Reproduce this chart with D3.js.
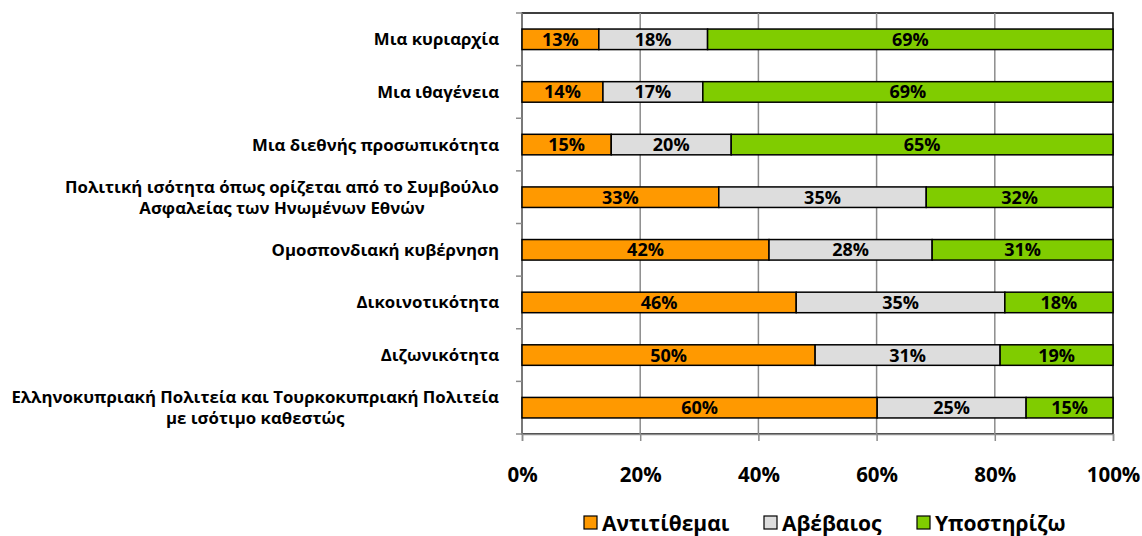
<!DOCTYPE html>
<html>
<head>
<meta charset="utf-8">
<script src="https://cdn.jsdelivr.net/npm/d3@7"></script>
<style>
  body { margin: 0; background: #fff; }
  text { font-family: "Open Sans", "Noto Sans", sans-serif; font-weight: bold; fill: #000; }
</style>
</head>
<body>
<svg id="chart" width="1142" height="536"></svg>
<script>
// categories (top to bottom), each as label lines
const categories = [
  ["Μια κυριαρχία"],
  ["Μια ιθαγένεια"],
  ["Μια διεθνής προσωπικότητα"],
  ["Πολιτική ισότητα όπως ορίζεται από το Συμβούλιο", "Ασφαλείας των Ηνωμένων Εθνών"],
  ["Ομοσπονδιακή κυβέρνηση"],
  ["Δικοινοτικότητα"],
  ["Διζωνικότητα"],
  ["Ελληνοκυπριακή Πολιτεία και Τουρκοκυπριακή Πολιτεία", "με ισότιμο καθεστώς"]
]
const seriesNames = ["Αντιτίθεμαι", "Αβέβαιος", "Υποστηρίζω"]
const seriesColors = ["#ff9900", "#dddddd", "#80cc00"]

// percentages
const oppose  = [13.0, 13.7, 15.1, 33.3, 41.8, 46.4, 49.6, 60.1]
const unsure  = [18.4, 16.9, 20.3, 35.1, 27.6, 35.3, 31.3, 25.2]
const support = [68.6, 69.4, 64.6, 31.6, 30.6, 18.3, 19.1, 14.7]

const xTicks = [0, 20, 40, 60, 80, 100]

const svg = d3.select('#chart')
const margin = {top: 13, left: 522, right: 29, bottom: 102}
const W = 1142, H = 536

const x = d3.scaleLinear().domain([0, 100]).range([margin.left, W - margin.right])
const y = d3.scaleBand()
  .domain(d3.range(categories.length))
  .range([margin.top, H - margin.bottom])
  .paddingInner(0.61).paddingOuter(0.305)

// plot frame
svg.append('rect')
  .attr('x', x(0)).attr('y', margin.top)
  .attr('width', x(100) - x(0)).attr('height', H - margin.bottom - margin.top)
  .attr('fill', 'none').attr('stroke', '#000').attr('stroke-width', 1.5)

// gridlines
svg.append('g').selectAll('line')
  .data(xTicks.slice(1, -1))
  .enter().append('line')
  .attr('x1', d => x(d)).attr('x2', d => x(d))
  .attr('y1', margin.top).attr('y2', H - margin.bottom)
  .attr('stroke', '#8c8c8c').attr('stroke-width', 1.5)

// x axis
const xAxis = svg.append('g')
  .attr('transform', `translate(0,${H - margin.bottom})`)
  .call(d3.axisBottom(x).tickValues(xTicks).tickFormat(d => d + '%').tickSize(7).tickPadding(26))
xAxis.select('.domain').attr('stroke', '#8c8c8c').attr('stroke-width', 1.5)
xAxis.selectAll('.tick line').attr('stroke', '#8c8c8c').attr('stroke-width', 1.5)
xAxis.selectAll('.tick text').style('font-family', '"Open Sans", sans-serif').style('font-size', '20.5px')

// y axis with ticks at band boundaries
const step = y.step()
const bounds = d3.range(categories.length + 1).map(i => margin.top + i * step)
const yAxisG = svg.append('g')
yAxisG.append('line')
  .attr('x1', x(0)).attr('x2', x(0))
  .attr('y1', margin.top).attr('y2', H - margin.bottom)
  .attr('stroke', '#8c8c8c').attr('stroke-width', 1.5)
yAxisG.selectAll('line.tk')
  .data(bounds)
  .enter().append('line')
  .attr('class', 'tk')
  .attr('x1', x(0) - 6).attr('x2', x(0))
  .attr('y1', d => d).attr('y2', d => d)
  .attr('stroke', '#8c8c8c').attr('stroke-width', 1.5)

// stacked bars
const rows = categories.map((c, i) => [oppose[i], unsure[i], support[i]])
rows.forEach((vals, i) => {
  let start = 0
  vals.forEach((v, j) => {
    const g = svg.append('g')
    g.append('rect')
      .attr('x', x(start)).attr('y', y(i))
      .attr('width', x(start + v) - x(start)).attr('height', y.bandwidth())
      .attr('fill', seriesColors[j]).attr('stroke', '#000').attr('stroke-width', 1.5)
    g.append('text')
      .attr('x', x(start + v / 2)).attr('y', y(i) + y.bandwidth() / 2)
      .attr('text-anchor', 'middle').attr('dy', '0.36em')
      .style('font-size', '18px')
      .text(Math.round(v) + '%')
    start += v
  })
})

// category labels
const labelSize = 16.8
categories.forEach((lines, i) => {
  const cy = y(i) + y.bandwidth() / 2
  const t = svg.append('text')
    .attr('text-anchor', lines.length > 1 ? 'middle' : 'end')
    .style('font-size', labelSize + 'px')
  lines.forEach((ln, k) => {
    t.append('tspan').attr('x', 499)
      .attr('y', cy + (k - (lines.length - 1) / 2) * 21)
      .attr('dy', '0.36em').text(ln)
  })
  if (lines.length > 1) {
    // centre the block under the widest line, right edge at 499
    const w = t.node().getBBox().width
    t.selectAll('tspan').attr('x', 499 - w / 2)
  }
})

// legend
const legendX = [584, 764, 917]
const legend = svg.append('g').attr('transform', `translate(0,523)`)
seriesNames.forEach((name, j) => {
  legend.append('rect')
    .attr('x', legendX[j]).attr('y', -7).attr('width', 13).attr('height', 13)
    .attr('fill', seriesColors[j]).attr('stroke', '#000').attr('stroke-width', 1.2)
  legend.append('text')
    .attr('x', legendX[j] + 18).attr('y', 0).attr('dy', '0.36em')
    .style('font-size', '21px').text(name)
})
</script>
</body>
</html>
